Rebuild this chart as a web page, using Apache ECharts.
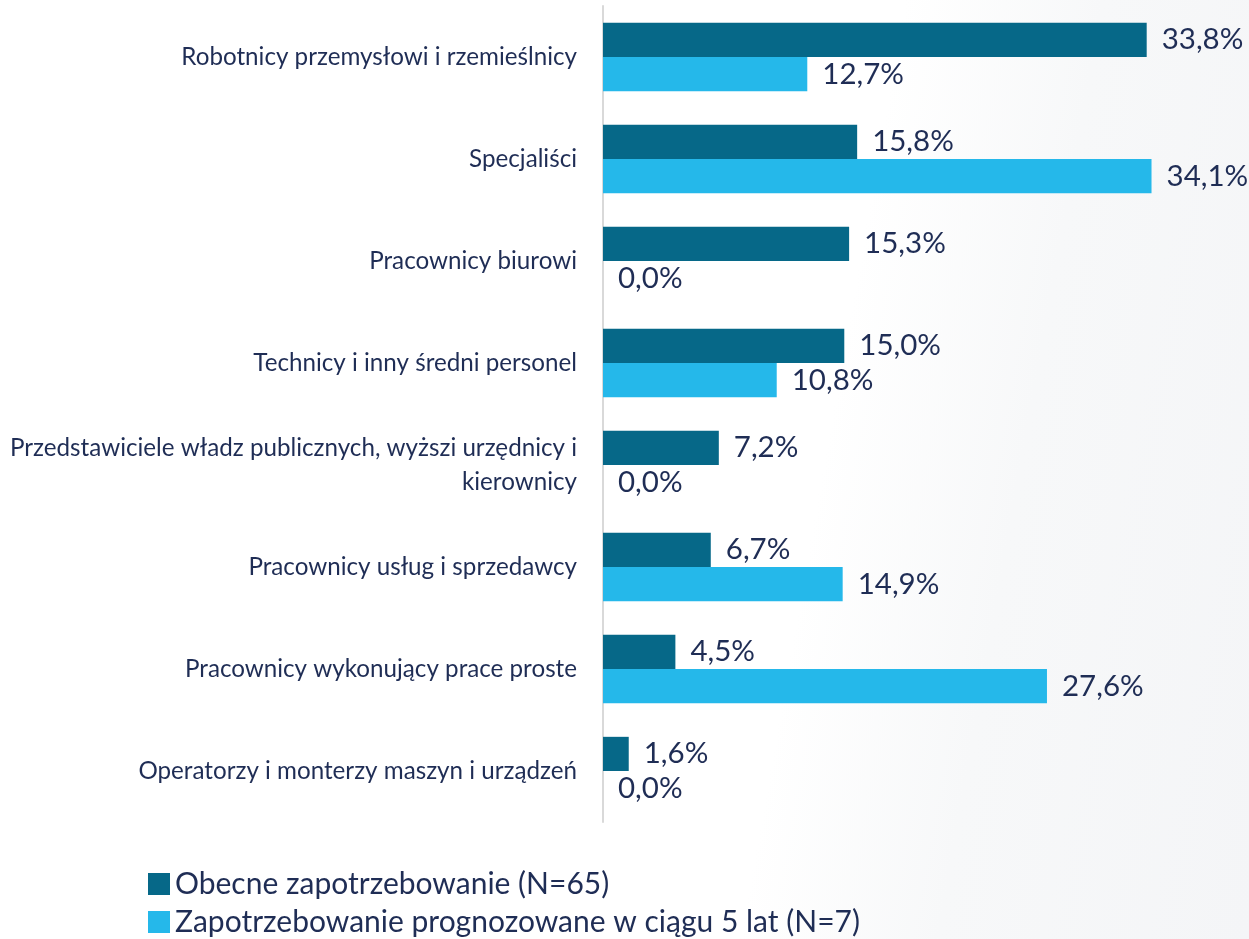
<!DOCTYPE html>
<html>
<head>
<meta charset="utf-8">
<script src="https://cdn.jsdelivr.net/npm/echarts@6/dist/echarts.min.js"></script>
<style>
  html, body { margin: 0; padding: 0; }
  #chart {
    width: 1249px;
    height: 939px;
    background: linear-gradient(100deg, #ffffff 0%, #ffffff 64%, #f7f8f9 78%, #f4f5f7 100%);
  }
</style>
</head>
<body>
<div id="chart"></div>
<script>
const categories = [
  "Robotnicy przemysłowi i rzemieślnicy",
  "Specjaliści",
  "Pracownicy biurowi",
  "Technicy i inny średni personel",
  "Przedstawiciele władz publicznych, wyższi urzędnicy i\nkierownicy",
  "Pracownicy usług i sprzedawcy",
  "Pracownicy wykonujący prace proste",
  "Operatorzy i monterzy maszyn i urządzeń"
];
const currentDemand = [33.8, 15.8, 15.3, 15.0, 7.2, 6.7, 4.5, 1.6];
const forecastDemand = [12.7, 34.1, 0.0, 10.8, 0.0, 14.9, 27.6, 0.0];
const seriesNames = [
  "Obecne zapotrzebowanie (N=65)",
  "Zapotrzebowanie prognozowane w ciągu 5 lat (N=7)"
];

const textColor = "#1f2d55";
const font = "Lato, 'Open Sans', sans-serif";

const chart = echarts.init(document.getElementById("chart"));

function pct(p) {
  return p.value.toFixed(1).replace(".", ",") + "%";
}

// one legend per row, stacked like the original
function legendFor(name, top) {
  return {
    left: 143,
    top: top,
    icon: "rect",
    itemWidth: 22,
    itemHeight: 22,
    textStyle: { fontSize: 30, color: textColor, fontFamily: font },
    data: [name]
  };
}

chart.setOption({
  textStyle: { fontFamily: font },
  grid: { left: 603, right: 83, top: 6, bottom: 117 },
  legend: [legendFor(seriesNames[0], 864), legendFor(seriesNames[1], 902)],
  xAxis: {
    type: "value",
    min: 0,
    max: 35,
    show: false
  },
  yAxis: {
    type: "category",
    inverse: true,
    data: categories,
    axisLine: { lineStyle: { color: "#d9d9d9", width: 2 } },
    axisTick: { show: false },
    axisLabel: {
      margin: 26,
      fontSize: 24.2,
      color: textColor,
      align: "right",
      lineHeight: 34,
      fontFamily: font
    }
  },
  series: [
    {
      name: seriesNames[0],
      type: "bar",
      data: currentDemand,
      barGap: "0%",
      barCategoryGap: "33%",
      itemStyle: { color: "#066888" },
      label: {
        show: true,
        position: "right",
        distance: 15,
        fontSize: 29.5,
        color: textColor,
        fontFamily: font,
        formatter: pct
      }
    },
    {
      name: seriesNames[1],
      type: "bar",
      data: forecastDemand,
      barGap: "0%",
      barCategoryGap: "33%",
      itemStyle: { color: "#25b8ea" },
      label: {
        show: true,
        position: "right",
        distance: 15,
        fontSize: 29.5,
        color: textColor,
        fontFamily: font,
        formatter: pct
      }
    }
  ]
});
</script>
</body>
</html>
